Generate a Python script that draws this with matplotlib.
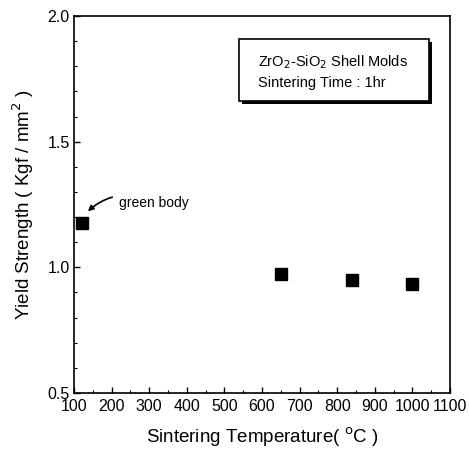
import matplotlib
matplotlib.use("Agg")
import matplotlib.pyplot as plt
from matplotlib.ticker import MultipleLocator
from matplotlib.patches import Rectangle

temps = [122, 650, 840, 998]
strength = [1.178, 0.972, 0.950, 0.932]
xticks = [100, 200, 300, 400, 500, 600, 700, 800, 900, 1000, 1100]
yticks = [0.5, 1.0, 1.5, 2.0]

plt.rcParams['font.family'] = ['Liberation Sans', 'DejaVu Sans']

fig = plt.figure(figsize=(4.69, 4.5), dpi=100)
ax = fig.add_axes([74/469, 1-393/450, (450-74)/469, (393-16)/450])

ax.plot(temps, strength, 's', color='black', markersize=8, linestyle='none')

ax.set_xlim(100, 1100)
ax.set_ylim(0.5, 2.0)
ax.set_xticks(xticks)
ax.set_yticks(yticks)
ax.set_yticklabels(['0.5', '1.0', '1.5', '2.0'])
ax.xaxis.set_minor_locator(MultipleLocator(50))
ax.yaxis.set_minor_locator(MultipleLocator(0.1))
ax.tick_params(direction='in', which='major', length=4, width=1, labelsize=11.5,
               top=False, right=False)
ax.tick_params(axis='x', which='major', pad=4)
ax.tick_params(axis='y', which='major', pad=3)
ax.tick_params(direction='in', which='minor', length=2, width=0.8, top=False, right=False)
for s in ax.spines.values():
    s.set_linewidth(1.2)

ax.set_xlabel('Sintering Temperature( $^{\\mathrm{o}}$C )', fontsize=13.5, labelpad=9)
ax.set_ylabel('Yield Strength ( Kgf / mm$^{2}$ )', fontsize=13.5, labelpad=8)

ax.annotate('green body', xy=(temps[0] + 15, strength[0] + 0.045),
            xytext=(220, 1.255), fontsize=10, va='center',
            arrowprops=dict(arrowstyle='-|>', color='black', lw=1.2,
                            connectionstyle='arc3,rad=0.35', shrinkA=3, shrinkB=0,
                            mutation_scale=8))

# text box with drop shadow (axes fractions)
bx0, by0, bw, bh = 0.439, 0.775, 0.505, 0.164
ax.add_patch(Rectangle((bx0 + 0.009, by0 - 0.009), bw, bh, transform=ax.transAxes,
                       facecolor='black', edgecolor='none', zorder=3))
ax.add_patch(Rectangle((bx0, by0), bw, bh, transform=ax.transAxes,
                       facecolor='white', edgecolor='black', lw=1.2, zorder=4))
ax.text(0.49, 0.852, 'ZrO$_2$-SiO$_2$ Shell Molds\nSintering Time : 1hr',
        transform=ax.transAxes, fontsize=10.5, va='center', ha='left', linespacing=1.5,
        zorder=5)

fig.savefig('out.png', dpi=100)
